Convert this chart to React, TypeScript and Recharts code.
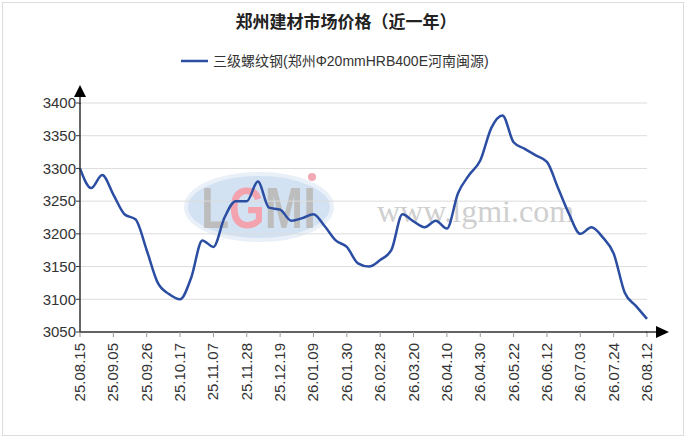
import { LineChart, Line, XAxis, YAxis, CartesianGrid } from 'recharts'

// weekly dates, labelled every third week
const dates = [
  '25.08.15', '25.08.22', '25.08.29', '25.09.05', '25.09.12', '25.09.19', '25.09.26',
  '25.10.03', '25.10.10', '25.10.17', '25.10.24', '25.10.31', '25.11.07', '25.11.14',
  '25.11.21', '25.11.28', '25.12.05', '25.12.12', '25.12.19', '25.12.26', '26.01.02',
  '26.01.09', '26.01.16', '26.01.23', '26.01.30', '26.02.06', '26.02.13', '26.02.28',
  '26.03.06', '26.03.13', '26.03.20', '26.03.27', '26.04.03', '26.04.10', '26.04.17',
  '26.04.24', '26.04.30', '26.05.08', '26.05.15', '26.05.22', '26.05.29', '26.06.05',
  '26.06.12', '26.06.19', '26.06.26', '26.07.03', '26.07.10', '26.07.17', '26.07.24',
  '26.07.31', '26.08.07', '26.08.12',
]

const prices = [
  3300, 3270, 3290, 3260, 3230, 3222, 3175, 3125, 3108, 3100,
  3133, 3190, 3180, 3225, 3250, 3250, 3280, 3240, 3237, 3220,
  3224, 3230, 3212, 3190, 3180, 3155, 3150, 3160, 3175, 3230,
  3219, 3210, 3220, 3208, 3262, 3290, 3312, 3362, 3381, 3340,
  3330, 3320, 3310, 3270, 3230, 3200, 3210, 3195, 3170, 3110,
  3090, 3070,
]

const yTicks = [3050, 3100, 3150, 3200, 3250, 3300, 3350, 3400]

const title = '郑州建材市场价格（近一年）'
const seriesName = '三级螺纹钢(郑州Φ20mmHRB400E河南闽源)'

const data = dates.map((d, i) => ({ date: d, price: prices[i] }))

const LINE_COLOR = '#2b4ea3'
const AXIS_COLOR = '#333'
const FONT = '"Liberation Sans", Arial, sans-serif'
const CJK_FONT = '"Liberation Sans", "Noto Sans CJK SC", sans-serif'

function DateTick(props: any) {
  const { x, y, payload } = props
  return (
    <text
      transform={`translate(${x},${y}) rotate(-90)`}
      textAnchor="end"
      dy={5}
      fontSize={15}
      fontFamily={FONT}
      fill={AXIS_COLOR}
    >
      {payload.value}
    </text>
  )
}

// site logo watermark behind the plot
function Watermark() {
  return (
    <svg width={692} height={444} style={{ position: 'absolute', left: 0, top: 0 }}>
      <ellipse cx={259} cy={207} rx={73} ry={33} fill="#d3e2f3" stroke="#e9f0f8" strokeWidth={4} />
      <text
        transform="translate(201,228) scale(1,1.25)"
        fontSize={46}
        fontWeight="bold"
        fontFamily={FONT}
        fill="#bdbdbd"
      >
        L<tspan fill="#f3a3ad">G</tspan>MI
      </text>
      <circle cx={312} cy={177} r={4} fill="#f3a9b3" />
      <text x={377} y={222} fontSize={32} fontFamily='"Liberation Serif", serif' fill="#cfcfcf">
        www.lgmi.com
      </text>
    </svg>
  )
}

function Decorations() {
  return (
    <svg width={692} height={444} style={{ position: 'absolute', left: 0, top: 0, pointerEvents: 'none' }}>
      <text
        x={346}
        y={28}
        textAnchor="middle"
        fontSize={17}
        fontWeight="bold"
        fontFamily={CJK_FONT}
        fill="#222"
      >
        {title}
      </text>
      <line x1={181} x2={208} y1={61} y2={61} stroke={LINE_COLOR} strokeWidth={2.5} />
      <text x={213} y={66} fontSize={14} fontFamily={CJK_FONT} fill="#333">
        {seriesName}
      </text>
      {/* axis extensions and arrows */}
      <line x1={80} x2={80} y1={95} y2={104} stroke={AXIS_COLOR} strokeWidth={1.5} />
      <polygon points="80,85 74,97 86,97" fill="#000" />
      <line x1={646} x2={657} y1={332} y2={332} stroke={AXIS_COLOR} strokeWidth={1.5} />
      <polygon points="669,332 656,326 656,338" fill="#000" />
    </svg>
  )
}

export default function App() {
  return (
    <div style={{ position: 'absolute', left: 0, top: 0, width: 692, height: 444, background: '#fff' }}>
      <div
        style={{
          position: 'absolute',
          left: 2,
          top: 2,
          width: 680,
          height: 432,
          border: '1px solid #ddd',
        }}
      />
      <Watermark />
      <div style={{ position: 'absolute', left: 0, top: 0 }}>
        <LineChart width={692} height={444} data={data} margin={{ top: 103, right: 45, bottom: 32, left: 0 }}>
          <CartesianGrid vertical={false} stroke="#dcdcdc" />
          <XAxis
            dataKey="date"
            interval={2}
            height={80}
            tick={DateTick}
            tickSize={5}
            tickMargin={6}
            axisLine={{ stroke: AXIS_COLOR, strokeWidth: 1.5 }}
            tickLine={{ stroke: '#999' }}
          />
          <YAxis
            width={80}
            domain={[3050, 3400]}
            ticks={yTicks}
            interval={0}
            tickSize={4}
            tickMargin={0}
            axisLine={{ stroke: AXIS_COLOR, strokeWidth: 1.5 }}
            tickLine={{ stroke: AXIS_COLOR }}
            tick={{ fontSize: 15, fontFamily: FONT, fill: AXIS_COLOR }}
          />
          <Line
            type="monotone"
            dataKey="price"
            stroke={LINE_COLOR}
            strokeWidth={2.5}
            dot={false}
            isAnimationActive={false}
          />
        </LineChart>
      </div>
      <Decorations />
    </div>
  )
}
